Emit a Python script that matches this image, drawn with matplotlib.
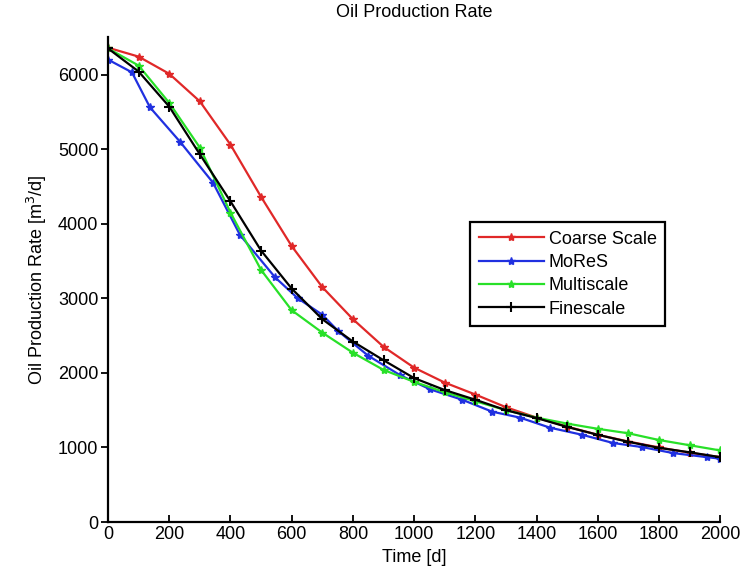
import numpy as np
import matplotlib
matplotlib.use('Agg')
from matplotlib import pyplot as plt

plt.rcParams['font.family'] = ['Liberation Sans', 'DejaVu Sans']

# time steps [d]
t_steps = [0, 100, 200, 300, 400, 500, 600, 700, 800, 900, 1000,
           1100, 1200, 1300, 1400, 1500, 1600, 1700, 1800, 1900, 2000]
# MoReS uses its own time steps
t_mores = [0, 78, 137, 235, 343, 431, 546, 620, 700, 752, 850, 954, 1052,
           1157, 1255, 1346, 1444, 1549, 1650, 1745, 1846, 1957, 2000]

coarse = [6360, 6240, 6010, 5640, 5060, 4360, 3700, 3150, 2720, 2350, 2070,
          1870, 1710, 1540, 1400, 1280, 1170, 1080, 1000, 930, 870]
mores = [6200, 6030, 5560, 5100, 4550, 3850, 3280, 3000, 2780, 2560, 2230,
         1970, 1780, 1640, 1480, 1400, 1265, 1170, 1060, 1005, 925, 870, 850]
multiscale = [6350, 6120, 5620, 5020, 4150, 3380, 2840, 2540, 2270, 2040, 1880,
              1740, 1620, 1500, 1400, 1320, 1250, 1190, 1100, 1030, 960]
finescale = [6350, 6040, 5570, 4930, 4300, 3640, 3130, 2720, 2420, 2170, 1930,
             1770, 1640, 1500, 1395, 1275, 1170, 1075, 995, 935, 870]

fig = plt.figure(figsize=(7.42, 5.82), dpi=100)
ax = fig.add_axes([0.1456, 0.103, 0.825, 0.833])

ax.plot(t_steps, coarse, color='#e02828', marker='*', ms=6, lw=1.6, label='Coarse Scale')
ax.plot(t_mores, mores, color='#2030e0', marker='*', ms=6, lw=1.6, label='MoReS')
ax.plot(t_steps, multiscale, color='#28e028', marker='*', ms=6, lw=1.6, label='Multiscale')
ax.plot(t_steps, finescale, color='black', marker='+', ms=7, mew=1.5, lw=1.6, label='Finescale')

ax.set_xlim(0, 2000)
ax.set_ylim(0, 6500)
ax.set_xticks(np.arange(0, 2001, 200))
ax.set_yticks(np.arange(0, 6001, 1000))
ax.tick_params(axis='x', direction='in', length=5, width=1.3, labelsize=13, pad=3)
ax.tick_params(axis='y', direction='out', length=5, width=1.3, labelsize=13, pad=2)
for s in ['top', 'right']:
    ax.spines[s].set_visible(False)
for s in ['left', 'bottom']:
    ax.spines[s].set_linewidth(1.6)

fig.text(0.558, 0.979, 'Oil Production Rate', fontsize=13, ha='center', va='center')
ax.set_xlabel('Time [d]', fontsize=13, labelpad=4)
ax.set_ylabel('Oil Production Rate [m$^3$/d]', fontsize=13, labelpad=6)

leg = ax.legend(loc='upper left', bbox_to_anchor=(0.592, 0.618), fontsize=13,
                fancybox=False, framealpha=1, edgecolor='black',
                handlelength=3.6, handletextpad=0.3, borderpad=0.45,
                labelspacing=0.35, borderaxespad=0)
leg.get_frame().set_linewidth(1.6)

fig.savefig('out.png', dpi=100)
